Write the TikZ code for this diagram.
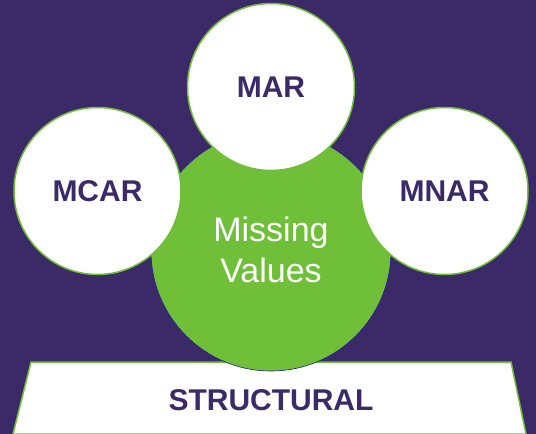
\documentclass[tikz,border=0pt]{standalone}
\usepackage{fontspec}
\setmainfont{Liberation Sans}
\usetikzlibrary{positioning}

\definecolor{nightpurple}{HTML}{3C2968}
\definecolor{leafgreen}{HTML}{6FBF38}

\begin{document}
\begin{tikzpicture}[x=1pt,y=-1pt,
    mechanism/.style={circle,fill=white,draw=leafgreen,line width=1.5pt,
        minimum size=167pt,inner sep=0pt,text=nightpurple,
        font=\fontsize{30}{34}\selectfont\bfseries},
    core/.style={circle,fill=leafgreen,draw=nightpurple!60!blue,line width=0.6pt,
        minimum size=240pt,inner sep=0pt}]
    % background
    \fill[nightpurple] (0,0) rectangle (536,434);
    \useasboundingbox (0,0) rectangle (536,434);
    % base plate
    \draw[fill=white,draw=leafgreen,line width=1.5pt] (31,362) -- (511,362) -- (526,434) -- (13,434) -- cycle;
    \node[text=nightpurple,font=\fontsize{30}{34}\selectfont\bfseries] (structural) at (271,400) {STRUCTURAL};
    % centre circle
    \node[core] (missing) at (271,251) {};
    \node[text=white,align=center,font=\fontsize{34}{41}\selectfont] (missinglabel) at (271,250) {Missing\\Values};
    % the three mechanisms
    \node[mechanism] (mar) at (271,87) {MAR};
    \node[mechanism] (mcar) at (97.5,191) {MCAR};
    \node[mechanism] (mnar) at (444.5,191) {MNAR};
\end{tikzpicture}
\end{document}
